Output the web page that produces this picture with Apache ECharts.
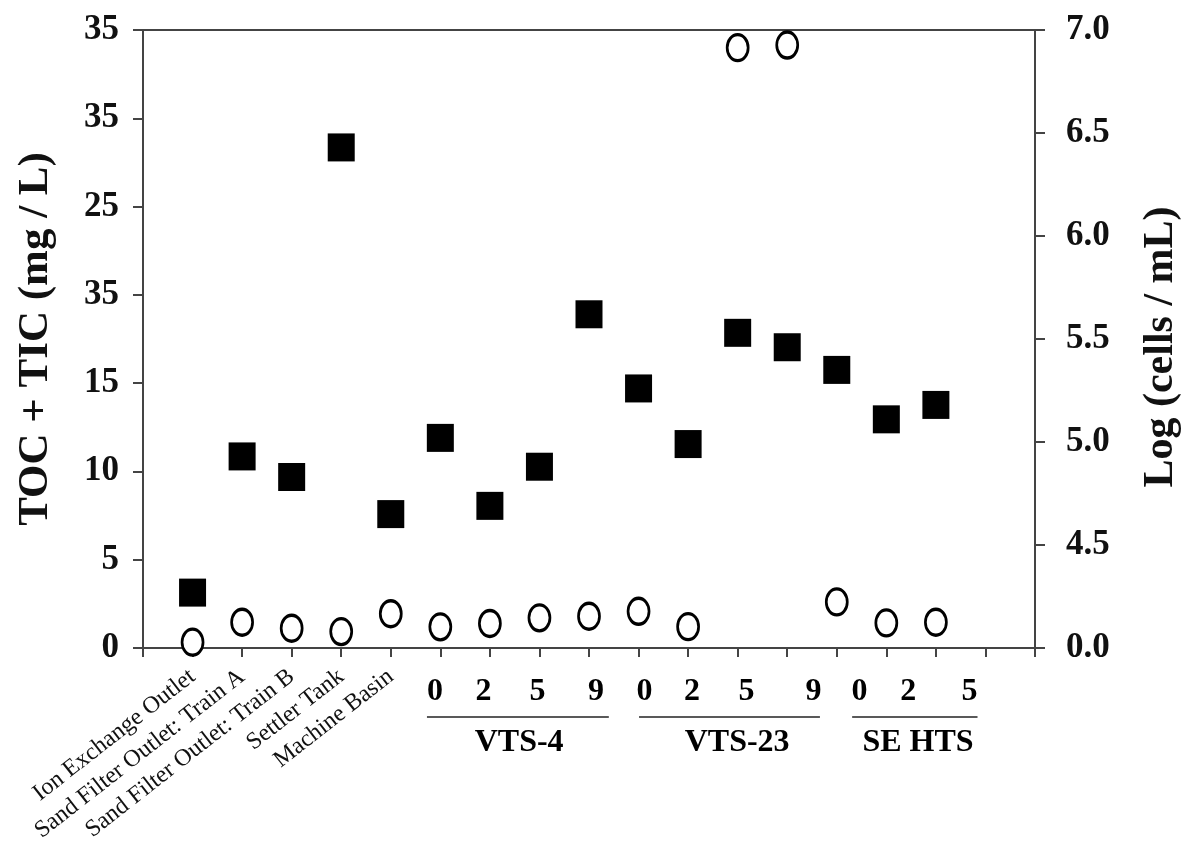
<!DOCTYPE html>
<html><head><meta charset="utf-8">
<script src="https://cdn.jsdelivr.net/npm/echarts@6/dist/echarts.min.js"></script>
<style>html,body{margin:0;padding:0;background:#fff}#c{width:1200px;height:850px}</style>
</head><body><div id="c"></div>
<script>
// ---- data ----
const siteNames = ['Ion Exchange Outlet', 'Sand Filter Outlet: Train A', 'Sand Filter Outlet: Train B', 'Settler Tank', 'Machine Basin'];
const sampleLabels = ['0', '2', '5', '9', '0', '2', '5', '9', '0', '2', '5'];
const groupNames = ['VTS-4', 'VTS-23', 'SE HTS'];
// TOC + TIC (mg/L), open circles, left axis
const tocTic = [0.33, 1.46, 1.12, 0.93, 1.94, 1.20, 1.39, 1.71, 1.80, 2.08, 1.21, 34.0, 34.15, 2.61, 1.42, 1.46];
// Log (cells/mL), filled squares, right (broken) axis
const logCells = [2.42, 4.93, 4.83, 6.43, 4.65, 5.02, 4.69, 4.88, 5.62, 5.26, 4.99, 5.53, 5.46, 5.35, 5.11, 5.18];
const leftTickLabels = ['0', '5', '10', '15', '35', '25', '35', '35'];
const rightTickLabels = ['0.0', '4.5', '5.0', '5.5', '6.0', '6.5', '7.0'];

// ---- layout (x-axis units) ----
const sampleLabelPos = [5.89, 6.87, 7.96, 9.14, 10.12, 11.08, 12.18, 13.53, 14.46, 15.44, 16.68];
const groupSpan = [[5.73, 9.40], [10.01, 13.66], [14.31, 16.84]];
const groupCenter = [7.59, 11.99, 15.64];

// broken right axis: 0 -> 4.5 occupies one tick interval, then 0.5 per interval
function brokenAxis(v) { return v < 4.5 ? v / 4.5 : 1 + (v - 4.5) / 0.5; }

const FONT = '"Liberation Serif", "Times New Roman", serif';
const AXC = '#444';

const circleData = tocTic.map((v, i) => [i + 1, v]);
const squareData = logCells.map((v, i) => [i + 1, brokenAxis(v)]);

const chart = echarts.init(document.getElementById('c'), null, { renderer: 'canvas' });
const option = {
  animation: false,
  backgroundColor: '#fff',
  grid: { left: 143, right: 165, top: 30, bottom: 202, show: true, borderColor: AXC, borderWidth: 2, backgroundColor: 'transparent' },
  xAxis: [{
    type: 'value', min: 0, max: 18, interval: 1, position: 'bottom',
    axisLine: { show: true, onZero: false, lineStyle: { color: AXC, width: 2 } },
    axisTick: { show: true, inside: false, length: 9, lineStyle: { color: AXC, width: 2 } },
    splitLine: { show: false },
    axisLabel: {
      show: true, rotate: 38, margin: 26, interval: 0,
      fontFamily: FONT, fontSize: 24, color: '#111',
      formatter: v => (v >= 1 && v <= siteNames.length) ? siteNames[v - 1] : ''
    }
  }],
  yAxis: [{
    type: 'value', min: 0, max: 35, interval: 5, position: 'left',
    name: 'TOC + TIC (mg / L)', nameLocation: 'middle', nameGap: 86, nameRotate: 90,
    nameTextStyle: { fontFamily: FONT, fontSize: 43, fontWeight: 'bold', color: '#111' },
    axisLine: { show: true, lineStyle: { color: AXC, width: 2 } },
    axisTick: { show: true, length: 10, lineStyle: { color: AXC, width: 2 } },
    splitLine: { show: false },
    axisLabel: {
      margin: 24, fontFamily: FONT, fontSize: 35, fontWeight: 'bold', color: '#111',
      formatter: v => leftTickLabels[Math.round(v / 5)]
    }
  }, {
    type: 'value', min: 0, max: 6, interval: 1, position: 'right',
    name: 'Log (cells / mL)', nameLocation: 'middle', nameGap: 105, nameRotate: 90,
    nameTextStyle: { fontFamily: FONT, fontSize: 42, fontWeight: 'bold', color: '#111', padding: [0, 16, 0, 0] },
    axisLine: { show: true, lineStyle: { color: AXC, width: 2 } },
    axisTick: { show: true, length: 10, lineStyle: { color: AXC, width: 2 } },
    splitLine: { show: false },
    axisLabel: {
      margin: 31, fontFamily: FONT, fontSize: 35, fontWeight: 'bold', color: '#111',
      formatter: v => rightTickLabels[Math.round(v)]
    }
  }],
  series: [{
    name: 'Log (cells / mL)', type: 'scatter', xAxisIndex: 0, yAxisIndex: 1,
    symbol: 'rect', symbolSize: [27, 28],
    itemStyle: { color: '#000', opacity: 1 },
    data: squareData
  }, {
    name: 'TOC + TIC', type: 'scatter', xAxisIndex: 0, yAxisIndex: 0,
    symbol: 'circle', symbolSize: [21, 26],
    itemStyle: { color: '#fff', borderColor: '#000', borderWidth: 3, opacity: 1 },
    data: circleData
  }]
};
chart.setOption(option);

// group annotations beneath the x axis
const yBase = chart.convertToPixel({ yAxisIndex: 0 }, 0);
const px = u => chart.convertToPixel({ xAxisIndex: 0 }, u);
const g = [];
sampleLabels.forEach((t, i) => {
  g.push({ type: 'text', x: px(sampleLabelPos[i]), y: yBase + 44,
    style: { text: t, fontFamily: FONT, fontSize: 32, fontWeight: 'bold', fill: '#000',
      align: 'center', verticalAlign: 'middle', textAlign: 'center', textVerticalAlign: 'middle' } });
});
groupSpan.forEach((s) => {
  g.push({ type: 'line', shape: { x1: px(s[0]), y1: yBase + 69, x2: px(s[1]), y2: yBase + 69 },
    style: { stroke: '#222', lineWidth: 1.6 } });
});
groupNames.forEach((t, i) => {
  g.push({ type: 'text', x: px(groupCenter[i]), y: yBase + 95,
    style: { text: t, fontFamily: FONT, fontSize: 32, fontWeight: 'bold', fill: '#000',
      align: 'center', verticalAlign: 'middle', textAlign: 'center', textVerticalAlign: 'middle' } });
});
chart.setOption({ graphic: g });
</script>
</body></html>
